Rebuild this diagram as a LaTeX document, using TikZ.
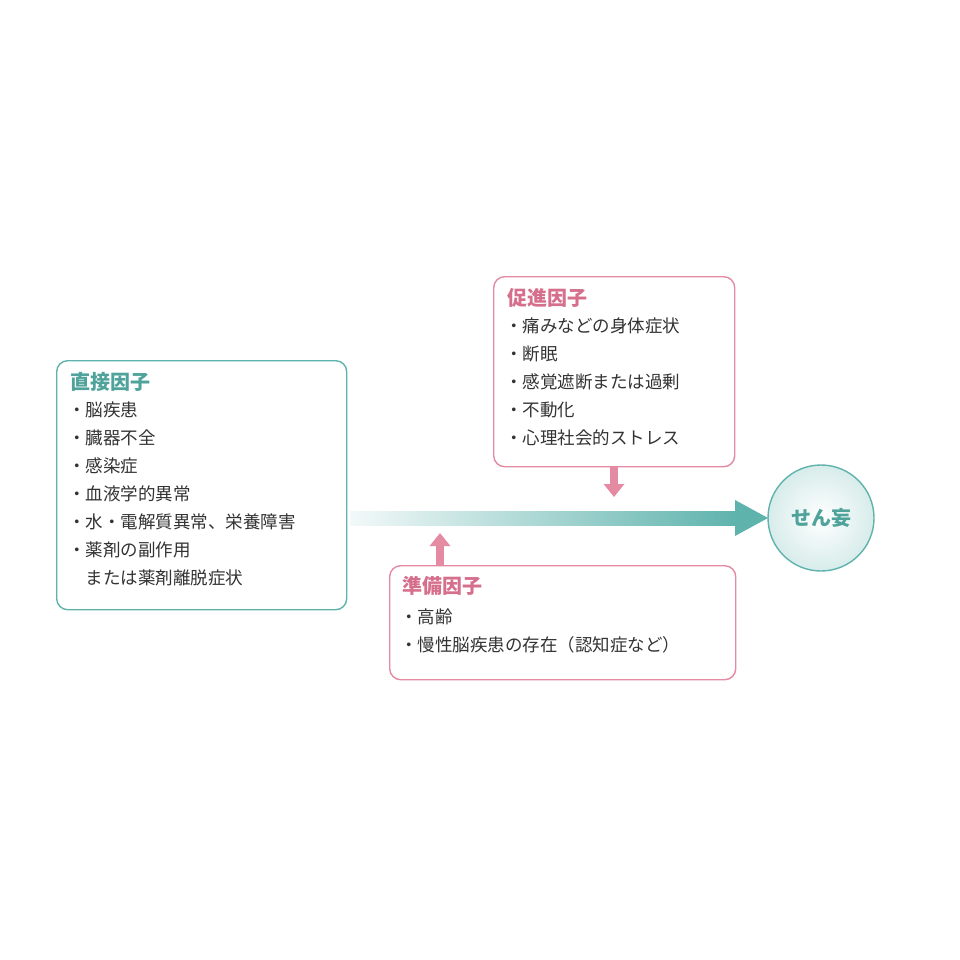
\documentclass[tikz,border=0pt]{standalone}
\usepackage{fontspec}
\setmainfont{Noto Sans CJK JP}
\usetikzlibrary{arrows.meta}
\definecolor{tealc}{HTML}{5FB3AD}
\definecolor{tealt}{HTML}{4FA39B}
\definecolor{pinkc}{HTML}{E48AA2}
\definecolor{pinkt}{HTML}{D66F8B}
\definecolor{txt}{HTML}{333333}
\tikzset{
 box/.style={draw, line width=1.4pt, rounded corners=11pt, fill=white},
 tbox/.style={box, draw=tealc},
 pbox/.style={box, draw=pinkc},
 body/.style={anchor=north west, align=left, inner sep=0pt, text=txt, font=\fontsize{17.5pt}{28pt}\selectfont},
 ttl/.style={anchor=north west, inner sep=0pt, font=\bfseries\fontsize{20pt}{24pt}\selectfont},
 parrow/.style={draw=pinkc, line width=8pt, -{Triangle[width=20pt,length=13pt]}}
}
\begin{document}
\begin{tikzpicture}[x=1pt,y=-1pt]
\useasboundingbox (0,0) rectangle (960,960);
% main arrow
\shade[left color=tealc!8, right color=tealc] (350,511) rectangle (737,525);
\fill[tealc] (735,500) -- (768,518) -- (735,536) -- cycle;
% boxes
\node[tbox, minimum width=290pt, minimum height=249pt, anchor=north west] (direct) at (56,360) {};
\node[pbox, minimum width=241pt, minimum height=190pt, anchor=north west] (promote) at (493,276) {};
\node[pbox, minimum width=346pt, minimum height=114pt, anchor=north west] (prep) at (389,565) {};
\node[circle, draw=tealc, line width=1.4pt, inner color=white, outer color=tealc!25, minimum size=106pt] (delir) at (821,518) {};
\node[text=tealt, font=\bfseries\fontsize{20pt}{24pt}\selectfont] at (delir) {せん妄};
\coordinate (pd) at (614,497);
\coordinate (pu) at (440,533);
\draw[parrow] (promote.south -| pd) -- (pd);
\draw[parrow] (prep.north -| pu) -- (pu);
% texts
\node[ttl, text=tealt] (t1) at (70,372) {直接因子};
\node[body] (b1) at (68,402) {・脳疾患\\・臓器不全\\・感染症\\・血液学的異常\\・水・電解質異常、栄養障害\\・薬剤の副作用\\\hspace{1em}または薬剤離脱症状};
\node[ttl, text=pinkt] (t2) at (507,288) {促進因子};
\node[body] (b2) at (505,318) {・痛みなどの身体症状\\・断眠\\・感覚遮断または過剰\\・不動化\\・心理社会的ストレス};
\node[ttl, text=pinkt] (t3) at (402,576) {準備因子};
\node[body] (b3) at (400,609) {・高齢\\・慢性脳疾患の存在（認知症など）};
\end{tikzpicture}
\end{document}
